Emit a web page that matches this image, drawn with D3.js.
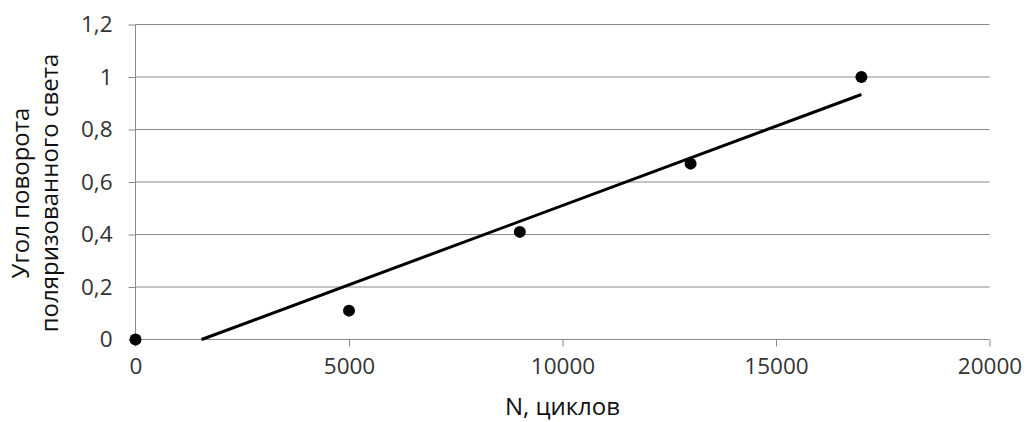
<!DOCTYPE html>
<html><head><meta charset="utf-8">
<script src="https://cdn.jsdelivr.net/npm/d3@7"></script>
<style>
html,body{margin:0;padding:0;background:#fff;}
svg{display:block;font-family:"Open Sans",sans-serif;}
</style></head>
<body><svg id="c" width="1026" height="422"></svg>
<script>
const cycles = [0, 5000, 9000, 13000, 17000];
const angles = [0, 0.11, 0.41, 0.67, 1.0];
const xTicks = [0, 5000, 10000, 15000, 20000];
const yTicks = [0, 0.2, 0.4, 0.6, 0.8, 1.0, 1.2];
const xTitle = "N, циклов";
const yTitleLines = ["Угол поворота", "поляризованного света"];

const svg = d3.select("#c");
const pL = 135.5, pR = 989.5, pT = 24.5, pB = 339.5;
const x = d3.scaleLinear().domain([0, 20000]).range([pL, pR]);
const y = d3.scaleLinear().domain([0, 1.2]).range([pB, pT]);
const fmtY = v => d3.format("~g")(+v.toFixed(1)).replace(".", ",");
const grid = "#8a8a8a";

// gridlines
svg.append("g").selectAll("line").data(yTicks).join("line")
  .attr("x1", pL).attr("x2", pR)
  .attr("y1", d => y(d)).attr("y2", d => y(d))
  .attr("stroke", grid).attr("stroke-width", 1);

// y axis
const ya = svg.append("g").attr("transform", `translate(${pL},0)`)
  .call(d3.axisLeft(y).tickValues(yTicks).tickFormat(fmtY).tickSize(7).tickPadding(16));
ya.select(".domain").attr("stroke", grid).attr("d", `M0,${pT}V${pB + 7}`);
ya.selectAll(".tick line").attr("stroke", grid);
ya.selectAll(".tick text").attr("font-size", 22.5).attr("fill", "#333").attr("font-family", "Open Sans");

// x axis
const xa = svg.append("g").attr("transform", `translate(0,${pB})`)
  .call(d3.axisBottom(x).tickValues(xTicks).tickFormat(d3.format("d")).tickSize(7).tickPadding(12));
xa.select(".domain").remove();
xa.selectAll(".tick line").attr("stroke", grid);
xa.selectAll(".tick text").attr("font-size", 22.5).attr("fill", "#333").attr("font-family", "Open Sans");

// linear trendline (least squares)
const mx = d3.mean(cycles), my = d3.mean(angles);
const sxy = d3.sum(cycles, (c, i) => (c - mx) * (angles[i] - my));
const sxx = d3.sum(cycles, c => (c - mx) ** 2);
const slope = sxy / sxx, icpt = my - slope * mx;
const x0 = Math.max(d3.min(cycles), -icpt / slope), x1 = d3.max(cycles);
svg.append("line")
  .attr("x1", x(x0)).attr("y1", y(slope * x0 + icpt))
  .attr("x2", x(x1)).attr("y2", y(slope * x1 + icpt))
  .attr("stroke", "#000").attr("stroke-width", 3);

// points
svg.append("g").selectAll("circle").data(cycles).join("circle")
  .attr("cx", d => x(d)).attr("cy", (d, i) => y(angles[i])).attr("r", 6)
  .attr("fill", "#000");

// titles
svg.append("text").attr("x", (pL + pR) / 2).attr("y", 415)
  .attr("text-anchor", "middle").attr("font-size", 24).attr("fill", "#111")
  .text(xTitle);
const yt = svg.append("text").attr("transform", "translate(0,193) rotate(-90)")
  .attr("text-anchor", "middle").attr("font-size", 24).attr("fill", "#111");
yTitleLines.forEach((t, i) => yt.append("tspan").attr("x", 0).attr("y", 29 + i * 29).text(t));
</script></body></html>
